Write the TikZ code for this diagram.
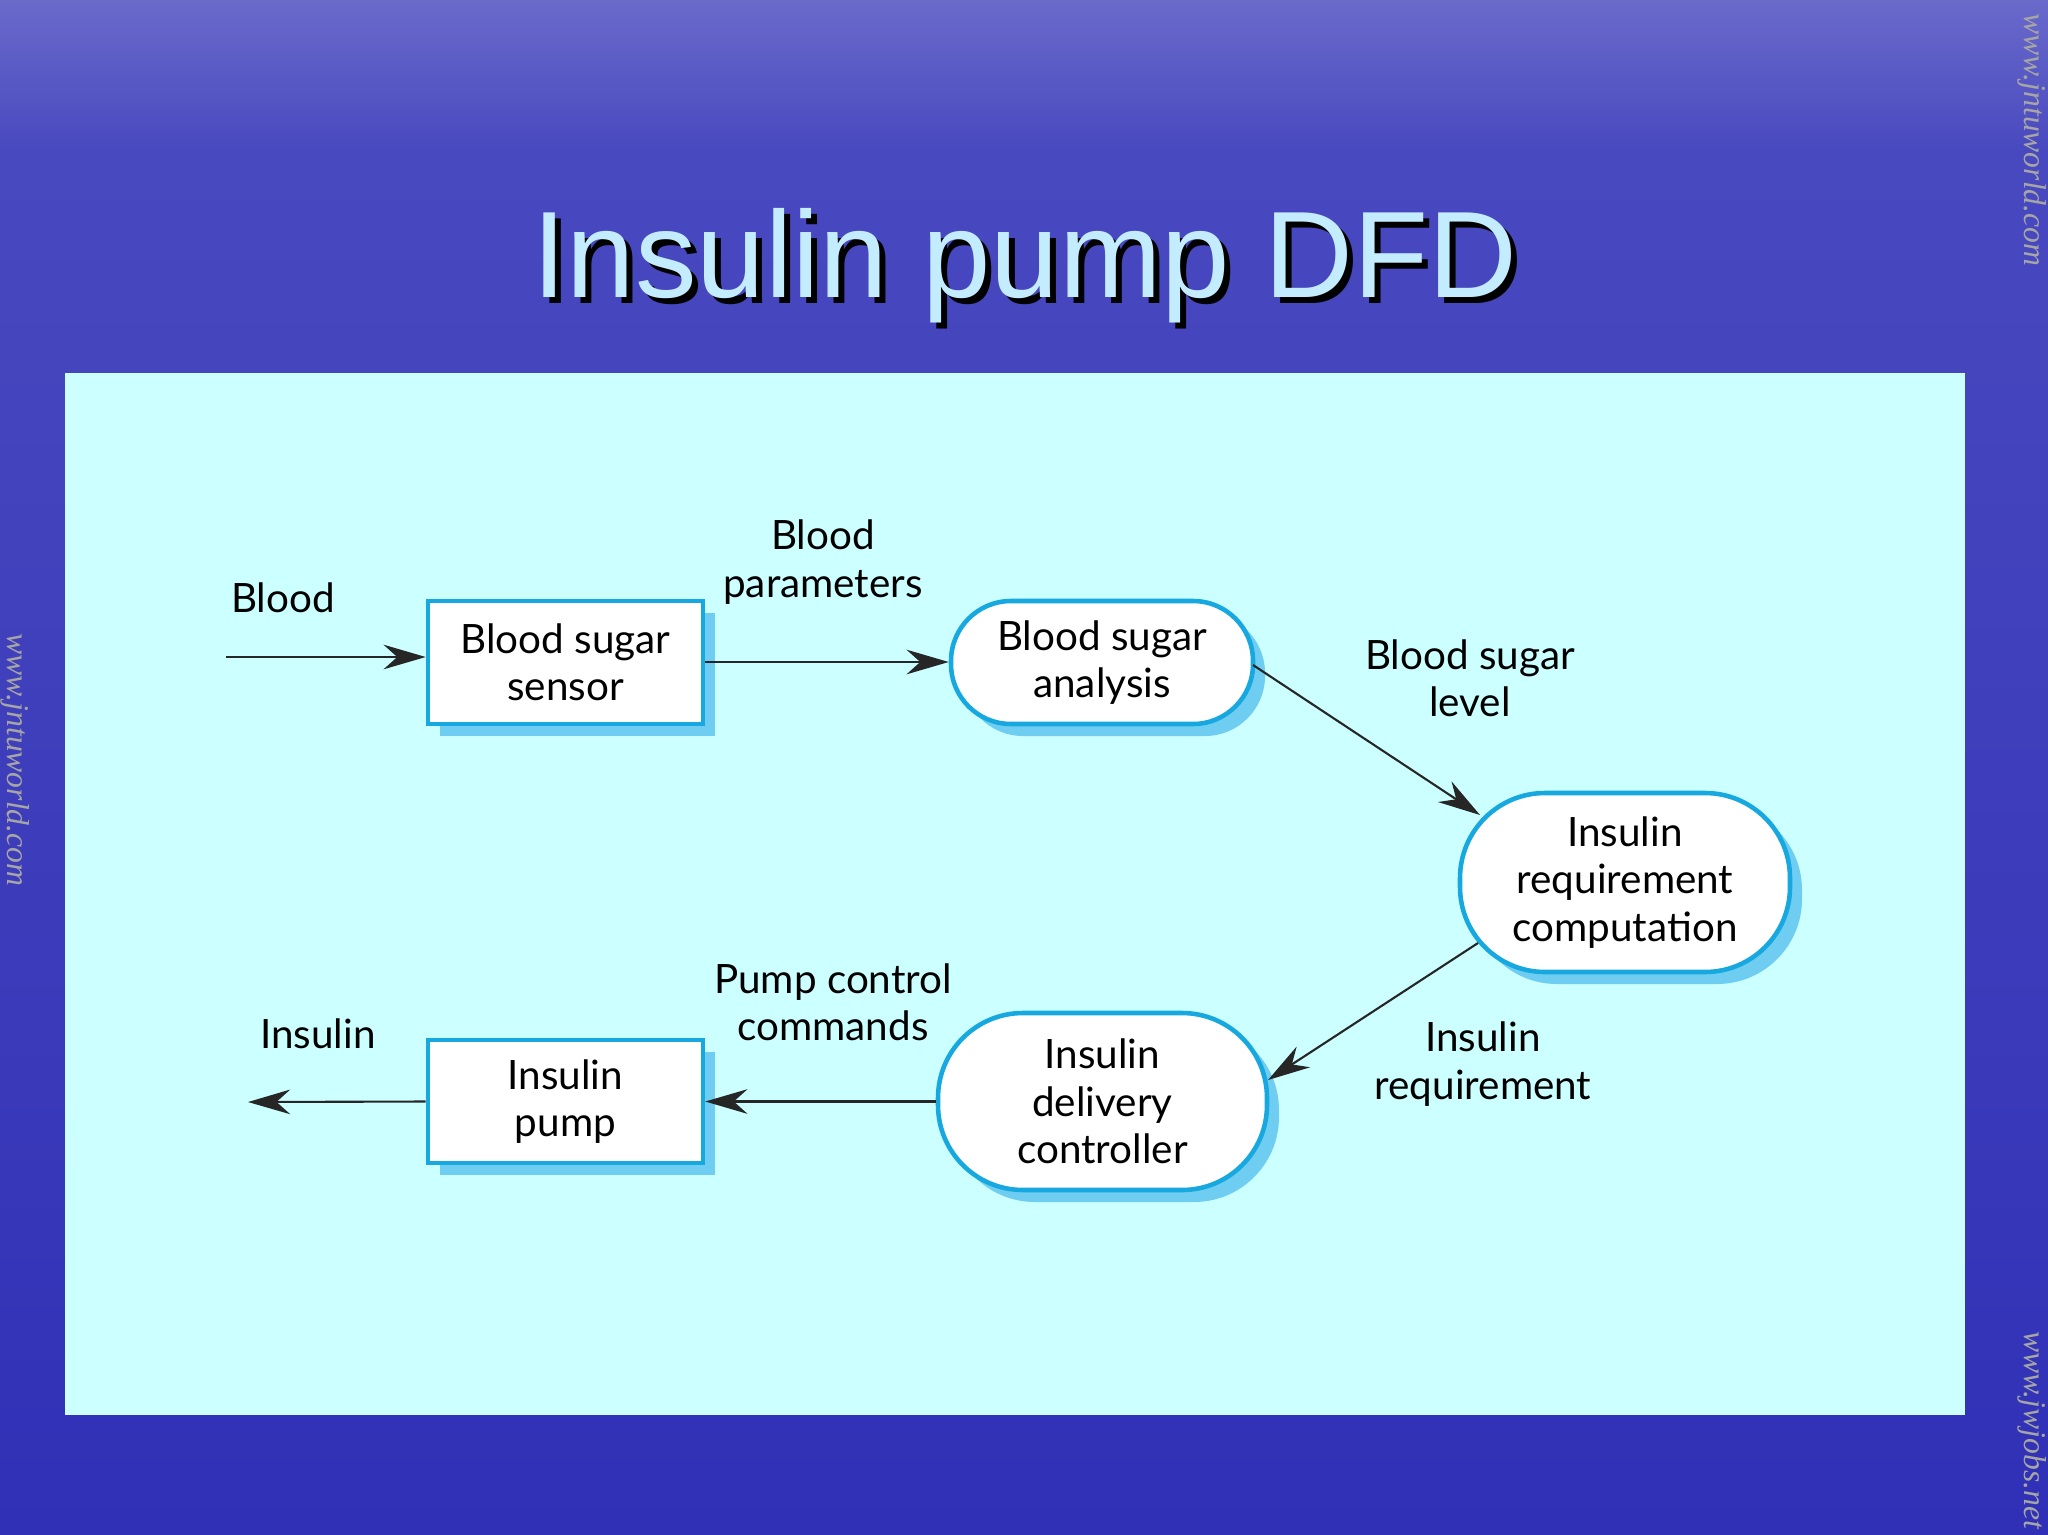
\documentclass[tikz,border=0pt]{standalone}
\usepackage{fontspec}
\setmainfont{Lato}
\newfontfamily\titlefont{Liberation Sans}
\newfontfamily\wmfont{Liberation Serif}
\usetikzlibrary{arrows.meta}
\definecolor{panel}{HTML}{CCFFFF}
\definecolor{edge}{HTML}{18A8E0}
\definecolor{shad}{HTML}{6FCDF2}
\definecolor{bgdark}{HTML}{2828B4}
\definecolor{bglight}{HTML}{D8D8F0}
\definecolor{ttl}{HTML}{C4ECFF}
\pgfdeclareverticalshading{bgshade}{100bp}{
 color(0bp)=(bgdark); color(8bp)=(bgdark!80!white); color(12bp)=(bgdark);
 color(40bp)=(bgdark!92!white); color(70bp)=(bgdark!85!white); color(78bp)=(bgdark!60!white);
 color(86bp)=(bglight); color(90bp)=(bgdark!50!white); color(95bp)=(bgdark!95!white);
 color(100bp)=(bgdark)}
\tikzset{
 proc/.style={draw=edge,line width=1.3pt,fill=white,font=\fontsize{11.5}{13.5}\selectfont,align=center,inner sep=0pt},
 lbl/.style={font=\fontsize{11.5}{13.5}\selectfont,align=center},
 flow/.style={-{Stealth[length=12pt,width=7pt]},line width=0.6pt,draw=black!85},
 wm/.style={font=\wmfont\itshape\fontsize{9}{10}\selectfont,text=gray!70!white}
}
\begin{document}
\begin{tikzpicture}[x=0.1mm,y=-0.1mm]
\useasboundingbox (0,0) rectangle (2048,1534);
\shade[shading=bgshade] (0,0) rectangle (2048,1534);
\fill[panel] (65,373) rectangle (1965,1415);
\node[font=\titlefont\fontsize{35}{35}\selectfont,text=black] at (1031,272) {Insulin pump DFD};
\node[font=\titlefont\fontsize{35}{35}\selectfont,text=ttl] (title) at (1025,266) {Insulin pump DFD};
% shadows
\fill[shad] (440,613) rectangle (715,736);
\fill[shad,rounded corners=6mm] (963,613) rectangle (1265,736);
\fill[shad,rounded corners=8.5mm] (1472,805) rectangle (1802,984);
\fill[shad,rounded corners=8.5mm] (950,1025) rectangle (1279,1202);
\fill[shad] (440,1052) rectangle (715,1175);
% nodes
\node[proc,minimum width=27.5mm,minimum height=12.3mm] (sensor) at (565.5,662.5) {Blood sugar\\sensor};
\node[proc,rounded corners=6mm,minimum width=30.2mm,minimum height=12.3mm] (analysis) at (1102,662.5) {Blood sugar\\analysis};
\node[proc,rounded corners=8.5mm,minimum width=33mm,minimum height=17.9mm] (comp) at (1625,882.5) {Insulin\\requirement\\computation};
\node[proc,rounded corners=8.5mm,minimum width=32.9mm,minimum height=17.7mm] (ctrl) at (1102.5,1101.5) {Insulin\\delivery\\controller};
\node[proc,minimum width=27.5mm,minimum height=12.3mm] (pump) at (565.5,1101.5) {Insulin\\pump};
\coordinate (bin) at (226,657);
\coordinate (iout) at (248,1102);
% flows
\draw[flow] (bin) -- (sensor.west|-bin);
\draw[flow] (sensor.east|-0,662) -- (analysis.west|-0,662);
\draw[flow] (1253,665) -- (1480,815);
\draw[flow] (1478,943) -- (1268,1080);
\draw[flow] (ctrl.west) -- (pump.east);
\draw[flow] (pump.west) -- (iout);
% labels
\node[lbl] (l1) at (283,598) {Blood};
\node[lbl] (l2) at (823,562) {Blood\\parameters};
\node[lbl] (l3) at (1470,678) {Blood sugar\\level};
\node[lbl] (l4) at (1483,1064) {Insulin\\requirement};
\node[lbl] (l5) at (833,1002) {Pump control\\commands};
\node[lbl] (l6) at (318,1034) {Insulin};
% watermarks
\node[wm,rotate=-90] (w1) at (15,760) {www.jntuworld.com};
\node[wm,rotate=-90] (w2) at (2032,140) {www.jntuworld.com};
\node[wm,rotate=-90] (w3) at (2032,1430) {www.jwjobs.net};
\end{tikzpicture}
\end{document}
